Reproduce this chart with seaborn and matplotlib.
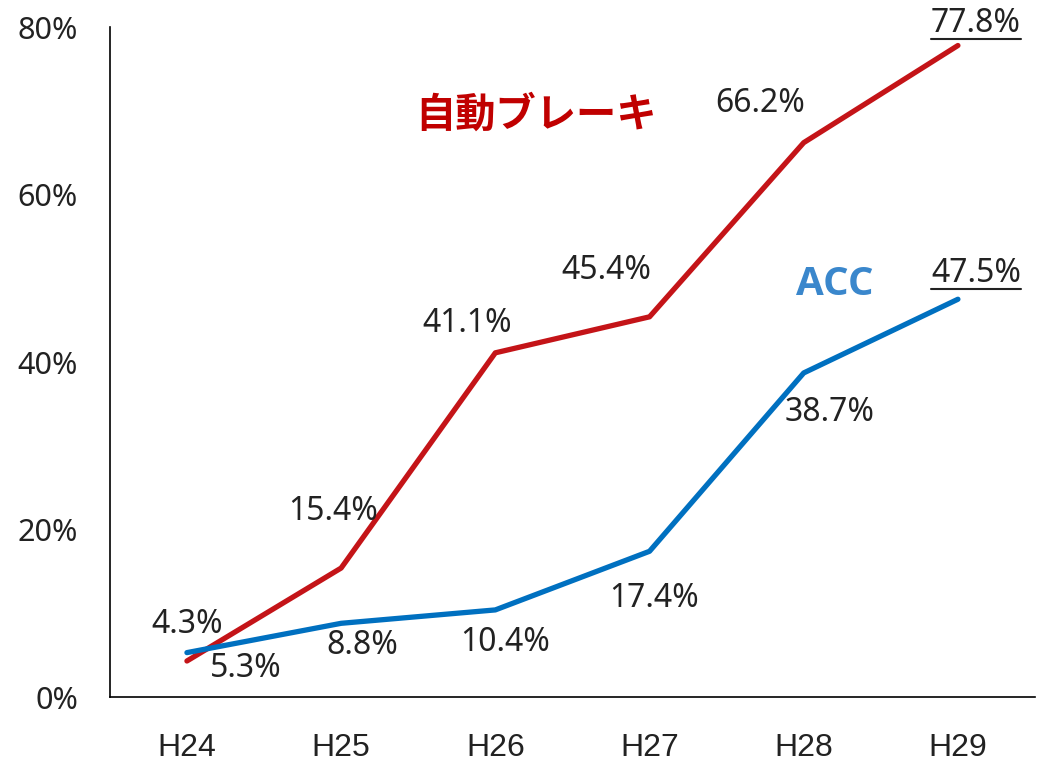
import numpy as np
import pandas as pd
import matplotlib
matplotlib.use("Agg")
import matplotlib.pyplot as plt
from matplotlib.lines import Line2D
import seaborn as sns

# data
years = ["H24", "H25", "H26", "H27", "H28", "H29"]
brake = [4.3, 15.4, 41.1, 45.4, 66.2, 77.8]
acc = [5.3, 8.8, 10.4, 17.4, 38.7, 47.5]
series_names = ["自動ブレーキ", "ACC"]

df = pd.DataFrame({
    "year": years * 2,
    "value": brake + acc,
    "series": [series_names[0]] * len(years) + [series_names[1]] * len(years),
})

sns.set_style("white")
plt.rcParams['font.family'] = ['Noto Sans', 'Noto Sans CJK JP', 'DejaVu Sans']

red = "#C41418"
blue = "#0070C0"

fig = plt.figure(figsize=(10.46, 7.63), dpi=100)
ax = fig.add_axes([0.105, 0.0865, 0.8845, 0.878])

sns.lineplot(data=df, x="year", y="value", hue="series", palette=[red, blue],
             linewidth=3.8, legend=False, ax=ax, sort=False)

ax.set_xlim(-0.5, 5.5)
ax.set_ylim(0, 80)
ax.set_yticks([0, 20, 40, 60, 80])
ax.set_yticklabels([f"{v}%" for v in [0, 20, 40, 60, 80]], fontsize=22, color="#222222")
ax.set_xticks(range(len(years)))
ax.set_xticklabels(years, fontsize=23, color="#222222",
                   family=['Liberation Sans', 'DejaVu Sans'])
ax.tick_params(axis='both', length=0)
ax.tick_params(axis='x', pad=26)
ax.tick_params(axis='y', pad=23)
ax.set_xlabel("")
ax.set_ylabel("")
for s in ["top", "right"]:
    ax.spines[s].set_visible(False)
for s in ["left", "bottom"]:
    ax.spines[s].set_color("black")
    ax.spines[s].set_linewidth(1.2)

# label offsets in pixels (dx, dy)
brake_off = [(0, 36), (-8, 57), (-28, 29), (-43, 46), (-44, 39), (18, 22)]
acc_off = [(59, -16), (21, -22), (10, -33), (5, -47), (26, -40), (18, 26)]

underlined = []
for vals, offs in [(brake, brake_off), (acc, acc_off)]:
    for i, (v, (dx, dy)) in enumerate(zip(vals, offs)):
        t = ax.annotate(f"{v}%", (i, v), xytext=(dx, dy), textcoords="offset pixels",
                        ha="center", va="center", fontsize=23, color="#222222",
                        annotation_clip=False)
        if i == len(vals) - 1:
            underlined.append(t)

fig.canvas.draw()
r = fig.canvas.get_renderer()
for t in underlined:
    bb = t.get_window_extent(renderer=r)
    y = bb.y0 + 1
    fig.add_artist(Line2D([bb.x0, bb.x1], [y, y], transform=None,
                          color="#222222", linewidth=1.5))

ax.text(0.4605, 0.868, "自動ブレーキ", transform=ax.transAxes, color="#C00000",
        fontsize=29, fontweight="bold", ha="center", va="center",
        family=['Noto Sans CJK JP', 'DejaVu Sans'])
ax.text(0.784, 0.616, "ACC", transform=ax.transAxes, color="#3A87CC",
        fontsize=29, fontweight="bold", ha="center", va="center",
        family=['Open Sans', 'DejaVu Sans'])

fig.savefig("out.png", dpi=100)
